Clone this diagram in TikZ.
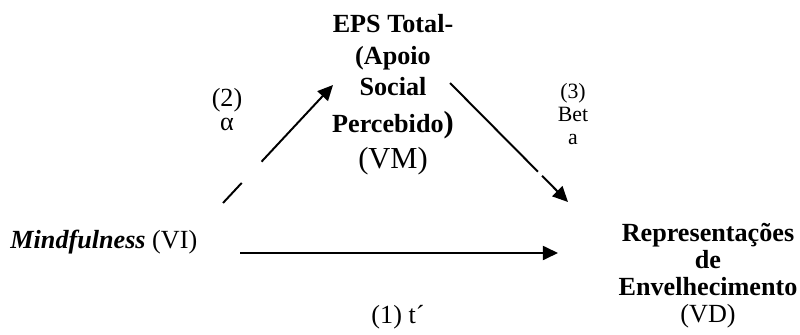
\documentclass[tikz,border=0pt]{standalone}
\usepackage{fontspec}
\setmainfont{Liberation Serif}
\usetikzlibrary{arrows.meta,calc}

\begin{document}
\begin{tikzpicture}[x=0.4587pt,y=-0.4587pt,
      var/.style={align=center,inner sep=0pt,
        font=\bfseries\fontsize{12}{14}\selectfont},
      coef/.style={align=center,inner sep=0pt,
        font=\fontsize{12}{11}\selectfont},
      link/.style={line width=0.9pt,-{Triangle[length=7pt,width=6.5pt]}}]
      \useasboundingbox (0,0) rectangle (800,334);
      % variables
      \node[inner sep=0pt,anchor=west,font=\fontsize{12}{14}\selectfont] (vi) at (10,242)
        {\textbf{\textit{Mindfulness}} (VI)};
      \node[var,anchor=north] (vm) at (393,14)
        {EPS Total-\\[0.7pt] (Apoio\\ Social\\[3pt]
         Percebido{\fontsize{14}{14}\selectfont)}\\[2.5pt]
         {\mdseries\fontsize{14}{16}\selectfont (VM)}};
      \node[var,anchor=north,font=\bfseries\fontsize{12}{12.4}\selectfont] (vd) at (708,223)
        {Representações\\ de\\ Envelhecimento\\ {\mdseries (VD)}};
      % coefficients
      \node[coef] (c2) at (227,110) {(2)\\ α};
      \node[coef,font=\fontsize{10}{10.5}\selectfont] (c3) at (573,114) {(3)\\ Bet\\ a};
      \node[coef] (c1) at (398,317) {(1) t´};
      % arrow ends
      \coordinate (vi-a) at (223,203);
      \coordinate (vm-a) at (333,85);
      \coordinate (vm-b) at (450,83);
      \coordinate (vd-b) at (568,202);
      \coordinate (vi-c) at (240,253);
      \coordinate (vd-c) at (558,253);
      \draw[link] (vi-a) -- ($(vi-a)!.17!(vm-a)$) ($(vi-a)!.35!(vm-a)$) -- (vm-a);
      \draw[link] (vm-b) -- ($(vm-b)!.745!(vd-b)$) ($(vm-b)!.78!(vd-b)$) -- (vd-b);
      \draw[link] (vi-c) -- (vd-c);
    \end{tikzpicture}
\end{document}
